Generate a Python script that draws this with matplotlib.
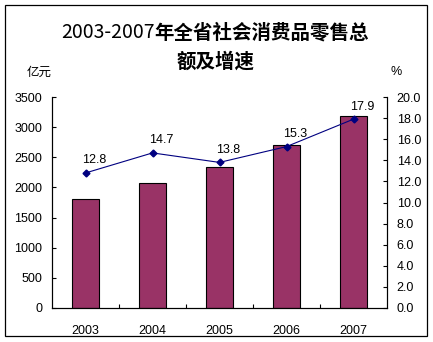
import matplotlib
matplotlib.use("Agg")
import matplotlib.pyplot as plt
from matplotlib.patches import Rectangle

years = ["2003", "2004", "2005", "2006", "2007"]
retail_sales = [1800, 2068, 2344, 2698, 3184]  # 亿元
growth_rate = [12.8, 14.7, 13.8, 15.3, 17.9]  # %

title_years = "2003-2007"
title_rest = "年全省社会消费品零售总"
title_line2 = "额及增速"

NUM_FONT = ["Liberation Sans", "Noto Sans CJK SC"]
CJK_FONT = ["Noto Sans CJK SC", "DejaVu Sans"]
plt.rcParams["font.family"] = NUM_FONT

W, H = 433, 342
fig = plt.figure(figsize=(W / 100, H / 100), dpi=100)

# outer frame
fig.patches.append(Rectangle((5 / W, 6 / H), 422 / W, 331 / H, transform=fig.transFigure,
                             fill=False, edgecolor="black", linewidth=0.9))

ax = fig.add_axes([52 / W, 34 / H, 335 / W, 211 / H])
xs = list(range(len(years)))
ax.bar(xs, retail_sales, width=0.4, color="#993366", edgecolor="black", linewidth=0.8, zorder=2)
ax.set_xlim(-0.5, len(years) - 0.5)
ax.set_ylim(0, 3500)
ax.set_yticks(range(0, 3501, 500))
ax.spines["top"].set_visible(False)
for s in ("left", "right", "bottom"):
    ax.spines[s].set_linewidth(0.8)
ax.tick_params(axis="y", direction="in", length=3, width=0.8, labelsize=9, pad=7)

# category boundary ticks + centred year labels
ax.set_xticks([x + 0.5 for x in xs[:-1]])
ax.set_xticklabels([])
ax.set_xticks(xs, minor=True)
ax.set_xticklabels(years, minor=True, fontsize=9)
ax.tick_params(axis="x", which="major", direction="in", length=3, width=0.8)
ax.tick_params(axis="x", which="minor", length=0, pad=12)

ax2 = ax.twinx()
ax2.set_ylim(0, 20)
ax2.set_yticks(range(0, 21, 2))
ax2.set_yticklabels([f"{v:.1f}" for v in range(0, 21, 2)])
ax2.spines["top"].set_visible(False)
ax2.spines["right"].set_linewidth(0.8)
ax2.tick_params(axis="y", direction="in", length=3, width=0.8, labelsize=9, pad=7)
ax2.plot(xs, growth_rate, color="#000080", linewidth=0.8, marker="D", markersize=3.5, zorder=3)
for x, v in zip(xs, growth_rate):
    ax2.annotate(f"{v:.1f}", (x, v), xytext=(6, 9), textcoords="offset points",
                 ha="center", va="center", fontsize=9)

# title: digits in regular weight, Chinese characters in bold
t1 = fig.text(0, 1 - 33 / H, title_years, ha="left", va="center", fontsize=14, family=CJK_FONT)
t2 = fig.text(0, 1 - 33 / H, title_rest, ha="left", va="center", fontsize=14,
              fontweight="bold", family=CJK_FONT)
renderer = fig.canvas.get_renderer()
w1 = t1.get_window_extent(renderer).width
w2 = t2.get_window_extent(renderer).width
x0 = 215 - (w1 + w2) / 2
t1.set_x(x0 / W)
t2.set_x((x0 + w1) / W)
fig.text(216 / W, 1 - 62 / H, title_line2, ha="center", va="center",
         fontsize=14, fontweight="bold", family=CJK_FONT)
fig.text(39 / W, 1 - 72 / H, "亿元", ha="center", va="center", fontsize=9, family=CJK_FONT)
fig.text(396 / W, 1 - 72 / H, "%", ha="center", va="center", fontsize=9)

fig.savefig("out.png", dpi=100)
